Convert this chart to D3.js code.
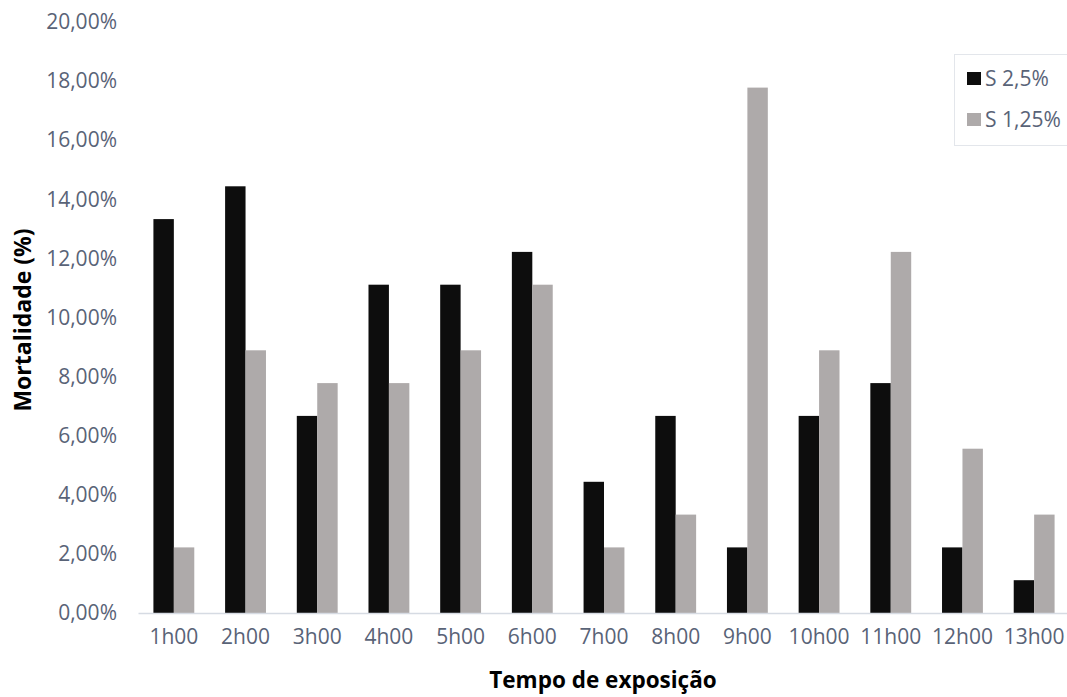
<!DOCTYPE html>
<html>
<head>
<meta charset="utf-8">
<script src="https://cdn.jsdelivr.net/npm/d3@7"></script>
<style>
  body { margin: 0; background: #fff; }
  svg text { font-family: "Open Sans", sans-serif; }
</style>
</head>
<body>
<div id="chart"></div>
<script>
// categories and series (% values)
const horas = ["1h00", "2h00", "3h00", "4h00", "5h00", "6h00", "7h00", "8h00", "9h00", "10h00", "11h00", "12h00", "13h00"]
const s25 = [13.33, 14.44, 6.67, 11.11, 11.11, 12.22, 4.44, 6.67, 2.22, 6.67, 7.78, 2.22, 1.11]
const s125 = [2.22, 8.89, 7.78, 7.78, 8.89, 11.11, 2.22, 3.33, 17.78, 8.89, 12.22, 5.56, 3.33]
const seriesNames = ["S 2,5%", "S 1,25%"]
const yTicks = [0, 2, 4, 6, 8, 10, 12, 14, 16, 18, 20]

const W = 1067, H = 697
const margin = { top: 22, right: -3, bottom: 84, left: 138 }
const width = W - margin.left - margin.right,
    height = H - margin.top - margin.bottom

const svg = d3.select("#chart")
    .append("svg")
    .attr("width", W)
    .attr("height", H)

const g = svg.append("g")
    .attr("transform", `translate(${margin.left}, ${margin.top})`)

const x = d3.scaleBand()
    .domain(horas)
    .range([0, width])
    .paddingInner(0.43)
    .paddingOuter(0.215)

const xSub = d3.scaleBand()
    .domain(seriesNames)
    .range([0, x.bandwidth()])

const y = d3.scaleLinear()
    .domain([0, 20])
    .range([height, 0])

const color = d3.scaleOrdinal()
    .domain(seriesNames)
    .range(["#0d0d0d", "#aeaaaa"])

const fmt = v => v.toFixed(2).replace(".", ",") + "%"

// y axis (labels only)
const yAxis = g.append("g")
    .call(d3.axisLeft(y).tickValues(yTicks).tickFormat(fmt).tickSize(0).tickPadding(21))
yAxis.select(".domain").remove()
yAxis.selectAll("text")
    .attr("fill", "#596377")
    .style("font-size", "21px")

// bars
const rows = horas.map((h, i) => ({ hora: h, vals: [s25[i], s125[i]] }))
g.append("g")
    .selectAll("g")
    .data(rows)
    .join("g")
    .attr("transform", d => `translate(${x(d.hora)}, 0)`)
    .selectAll("rect")
    .data(d => d.vals.map((v, k) => ({ key: seriesNames[k], v })))
    .join("rect")
    .attr("x", d => xSub(d.key))
    .attr("y", d => y(d.v))
    .attr("width", xSub.bandwidth())
    .attr("height", d => y(0) - y(d.v))
    .attr("fill", d => color(d.key))

// x axis
const xAxis = g.append("g")
    .attr("transform", `translate(0, ${height})`)
    .call(d3.axisBottom(x).tickSize(0).tickPadding(16).tickSizeOuter(0))
xAxis.select(".domain").attr("stroke", "#d6dbe3").attr("stroke-width", 1.3)
xAxis.selectAll("text")
    .attr("fill", "#596377")
    .style("font-size", "21px")

// axis titles
svg.append("text")
    .attr("transform", `translate(31, 320) rotate(-90)`)
    .attr("text-anchor", "middle")
    .style("font-size", "23px")
    .style("font-weight", "bold")
    .attr("fill", "#000")
    .text("Mortalidade (%)")

svg.append("text")
    .attr("x", 603)
    .attr("y", 688)
    .attr("text-anchor", "middle")
    .style("font-size", "22.5px")
    .style("font-weight", "bold")
    .attr("fill", "#000")
    .text("Tempo de exposição")

// legend
svg.append("rect")
    .attr("x", 954.5)
    .attr("y", 54.5)
    .attr("width", 120)
    .attr("height", 91)
    .attr("fill", "none")
    .attr("stroke", "#e3e6eb")

const legend = svg.append("g")
const li = legend.selectAll("g")
    .data(seriesNames)
    .join("g")
    .attr("transform", (d, i) => `translate(967, ${72 + i * 41})`)
li.append("rect")
    .attr("width", 14)
    .attr("height", 13)
    .attr("fill", d => color(d))
li.append("text")
    .attr("x", 18)
    .attr("y", 14)
    .attr("fill", "#596377")
    .style("font-size", "21px")
    .text(d => d)
</script>
</body>
</html>
